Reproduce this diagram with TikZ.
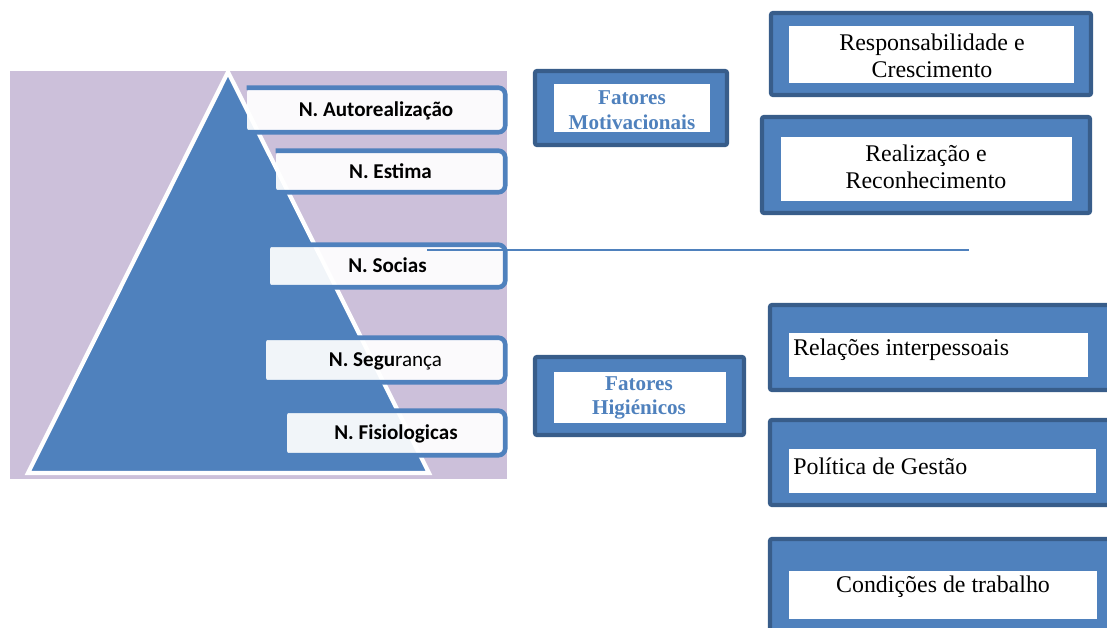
\documentclass[tikz,border=0pt]{standalone}
\usepackage{fontspec}
\setmainfont{Liberation Serif}
\newfontfamily\calfont{Carlito}
\definecolor{lilac}{HTML}{CCC0DA}
\definecolor{midblue}{HTML}{4F81BD}
\definecolor{darkblue}{HTML}{385D8A}
\tikzset{
  level/.style={fill=white, fill opacity=0.92, text opacity=1, rounded corners=3pt, inner sep=0pt, text depth=0.1em, font=\calfont\fontsize{15}{18}\selectfont},
  levelline/.style={draw=midblue, line width=3.3pt, rounded corners=5pt},
  factor/.style={fill=midblue, draw=darkblue, line width=3pt, rounded corners=1.5pt},
  factortext/.style={text=midblue, font=\fontsize{15}{17.5}\selectfont\bfseries, align=center},
  itemtext/.style={font=\fontsize{17}{19}\selectfont, align=center}
}
\begin{document}
\begin{tikzpicture}[x=0.025cm, y=-0.025cm]
      \useasboundingbox (0,0) rectangle (1107,628);
      \clip (0,0) rectangle (1107,628);
      \fill[lilac] (10,71) rectangle (507,479);
      \draw[white, line width=3pt, fill=midblue] (228,72) -- (28,473) -- (429,473) -- cycle;
      \node[level, minimum width=258*0.025cm, minimum height=44*0.025cm] (auto) at (376,110) {\bfseries N. Autorealização};
      \node[level, minimum width=229*0.025cm, minimum height=41*0.025cm] (estima) at (390.5,171.5) {\bfseries N. Estima};
      \node[level, minimum width=235*0.025cm, minimum height=42*0.025cm] (socias) at (387.5,266) {\bfseries N. Socias};
      \node[level, minimum width=239*0.025cm, minimum height=44*0.025cm] (seguranca) at (385.5,360) {\textbf{N. Segu}rança};
      \node[level, minimum width=218*0.025cm, minimum height=44*0.025cm] (fisio) at (396,433) {\bfseries N. Fisiologicas};
      \draw[levelline] (auto.north west) -- (auto.north east) -- (auto.south east) -- (auto.south west);
      \draw[levelline] (estima.north west) -- (estima.north east) -- (estima.south east) -- (estima.south west);
      \draw[levelline] (socias.north west) -- (socias.north east) -- (socias.south east) -- (socias.south west);
      \draw[levelline] (seguranca.north west) -- (seguranca.north east) -- (seguranca.south east) -- (seguranca.south west);
      \draw[levelline] (fisio.north west) -- (fisio.north east) -- (fisio.south east) -- (fisio.south west);
      \coordinate (linestart) at (427,250);
      \coordinate (lineend) at (969,250);
      \draw[midblue, line width=1.1pt] (linestart) -- (lineend);
      \draw[factor] (535,71) rectangle (727,145);
      \fill[white] (554,84) rectangle (710,132);
      \node[factortext] (motiv) at (632,110) {Fatores\\Motivacionais};
      \draw[factor] (535,357) rectangle (744,435);
      \fill[white] (554,372) rectangle (726,423);
      \node[factortext] (higien) at (639,398) {Fatores\\Higiénicos};
      \draw[factor] (771,13) rectangle (1091,95);
      \fill[white] (789,26) rectangle (1074,83);
      \node[itemtext] (resp) at (932,56) {Responsabilidade e\\Crescimento};
      \draw[factor] (762,117) rectangle (1090,213);
      \fill[white] (781,137) rectangle (1072,201);
      \node[itemtext] (realiz) at (926,167) {Realização e\\Reconhecimento};
      \draw[factor] (770,305) rectangle (1112,390);
      \fill[white] (789,333) rectangle (1088,377);
      \node[itemtext, anchor=west, inner sep=0pt] (relac) at (793,350) {Relações interpessoais};
      \draw[factor] (770,420) rectangle (1112,505);
      \fill[white] (789,449) rectangle (1096,493);
      \node[itemtext, anchor=west, inner sep=0pt] (polit) at (793,466) {Política de Gestão};
      \draw[factor] (770,539) rectangle (1112,640);
      \fill[white] (789,571) rectangle (1097,619);
      \node[itemtext] (cond) at (943,587) {Condições de trabalho};
\end{tikzpicture}
\end{document}
